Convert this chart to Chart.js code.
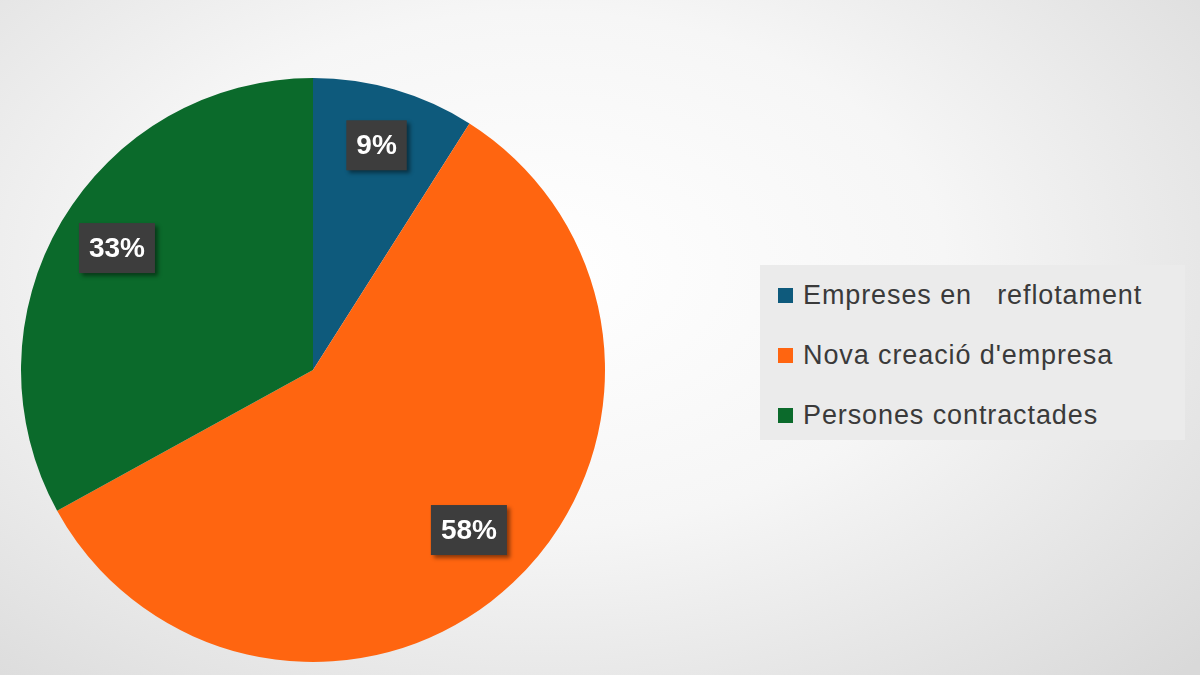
<!DOCTYPE html>
<html><head><meta charset="utf-8">
<script src="https://cdn.jsdelivr.net/npm/chart.js@4/dist/chart.umd.min.js"></script>
<style>
html,body{margin:0;padding:0;width:1200px;height:675px;overflow:hidden;
background:radial-gradient(ellipse 75% 85% at 45% 40%,#ffffff 0%,#f6f6f6 45%,#d9d9d9 100%);font-family:"Liberation Sans",Arial,sans-serif;}
#wrap{position:absolute;left:0;top:0;width:1200px;height:675px;}
#legend{position:absolute;left:760px;top:265px;width:425px;height:175px;background:#ebebeb;box-sizing:border-box;padding-top:0px;}
.item{display:flex;align-items:center;height:60px;padding-left:18px;font-size:27px;letter-spacing:0.9px;color:#3a3a3a;white-space:pre;}
.sw{width:15px;height:15px;margin-right:10px;}
</style></head><body>
<div id="wrap"><canvas id="c" width="1200" height="675"></canvas></div>
<div id="legend"></div>
<script>
const categories=["Empreses en   reflotament","Nova creació d'empresa","Persones contractades"];
const values=[9,58,33];
const colors=["#0e5a7c","#ff6510","#0b6a2b"];

const lg=document.getElementById('legend');
categories.forEach((c,i)=>{const d=document.createElement('div');d.className='item';
d.innerHTML='<span class="sw" style="background:'+colors[i]+'"></span>'+c;lg.appendChild(d);});

const labelPlugin={id:'lbl',afterDatasetsDraw(chart){
 const ctx=chart.ctx;const meta=chart.getDatasetMeta(0);
 meta.data.forEach((arc,i)=>{
  const a=(arc.startAngle+arc.endAngle)/2;const r=arc.outerRadius*0.78;
  const x=arc.x+Math.cos(a)*r,y=arc.y+Math.sin(a)*r-6;
  const t=values[i]+'%';
  ctx.save();ctx.font='bold 28px "Liberation Sans",Arial';
  const w=ctx.measureText(t).width+20,h=50;
  ctx.shadowColor='rgba(0,0,0,0.45)';ctx.shadowOffsetX=3;ctx.shadowOffsetY=3;ctx.shadowBlur=4;
  ctx.fillStyle='#3d3d3d';ctx.fillRect(x-w/2,y-h/2,w,h);
  ctx.shadowColor='transparent';
  ctx.fillStyle='#ffffff';ctx.textAlign='center';ctx.textBaseline='middle';
  ctx.fillText(t,x,y+1);ctx.restore();
 });}};

new Chart(document.getElementById('c'),{type:'pie',
 data:{labels:categories,datasets:[{data:values,backgroundColor:colors,borderWidth:0}]},
 options:{responsive:false,animation:false,layout:{padding:{left:21,top:78,right:595,bottom:13}},
  plugins:{legend:{display:false},tooltip:{enabled:false}}},
 plugins:[labelPlugin]});
</script></body></html>
